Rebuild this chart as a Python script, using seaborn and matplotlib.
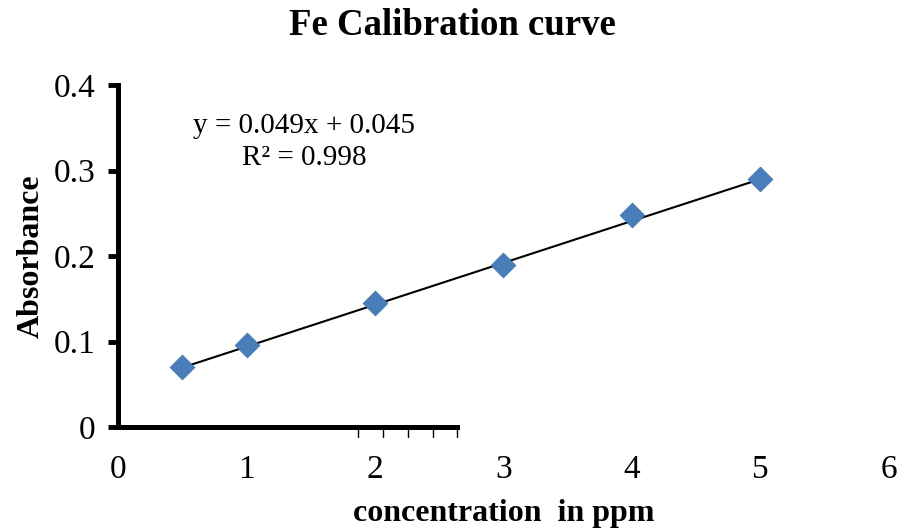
import matplotlib
matplotlib.use("Agg")
import matplotlib.pyplot as plt
import seaborn as sns
import numpy as np
import pandas as pd

conc = [0.5, 1, 2, 3, 4, 5]
absorb = [0.070, 0.096, 0.145, 0.190, 0.248, 0.290]
slope, intercept = 0.049, 0.045
x_ticks = [0, 1, 2, 3, 4, 5, 6]
y_ticks = [0, 0.1, 0.2, 0.3, 0.4]

sns.set_theme(style="white")
plt.rcParams['font.family'] = ['Liberation Serif', 'DejaVu Serif']
plt.rcParams['text.color'] = 'black'
plt.rcParams['axes.labelcolor'] = 'black'

df = pd.DataFrame({"conc": conc, "abs": absorb})
fig = plt.figure(figsize=(9.05, 5.29), dpi=100)
ax = fig.add_axes([0.1304, 0.1928, 0.8519, 0.6465])

fit_x = np.array([min(conc), max(conc)])
ax.plot(fit_x, slope * fit_x + intercept, color="black", lw=1.5, zorder=2)
sns.scatterplot(data=df, x="conc", y="abs", marker="D", s=160, color="#4a7ebb",
                edgecolor="#3d6ea8", linewidth=0.5, ax=ax, zorder=3)

ax.set_xlim(0, 6)
ax.set_ylim(0, 0.4)
ax.set_xticks(x_ticks)
ax.set_yticks(y_ticks)
ax.set_xticklabels([str(t) for t in x_ticks])
ax.set_yticklabels(["0", "0.1", "0.2", "0.3", "0.4"])
ax.tick_params(axis="both", labelsize=24, colors="black")
ax.tick_params(axis="y", length=7, width=3.5, direction="out", left=True, pad=9)
ax.tick_params(axis="x", length=0, pad=20)
# small tick marks as in the reference
ax.set_xticks([0, 1], minor=True)
ax.tick_params(axis="x", which="minor", length=6, width=4, direction="out", bottom=True)
for xm in [1.87, 2.06, 2.26, 2.45, 2.64]:
    ax.plot([xm, xm], [0, -0.012], color="black", lw=1, clip_on=False, zorder=4)

for s in ["top", "right"]:
    ax.spines[s].set_visible(False)
ax.spines["left"].set_linewidth(3.6)
ax.spines["bottom"].set_linewidth(3.6)
ax.spines["left"].set_color("black")
ax.spines["bottom"].set_color("black")
ax.spines["bottom"].set_bounds(0, 2.64)

ax.set_xlabel("concentration  in ppm", fontsize=23, fontweight="bold", labelpad=10)
ax.set_ylabel("Absorbance", fontsize=23, fontweight="bold", labelpad=6)
fig.suptitle("Fe Calibration curve", fontsize=26.5, fontweight="bold", y=0.985)

ax.text(1.45, 0.333, "y = 0.049x + 0.045\nR² = 0.998", fontsize=21, ha="center",
        va="center", linespacing=1.28)

fig.savefig("out.png", dpi=100)
